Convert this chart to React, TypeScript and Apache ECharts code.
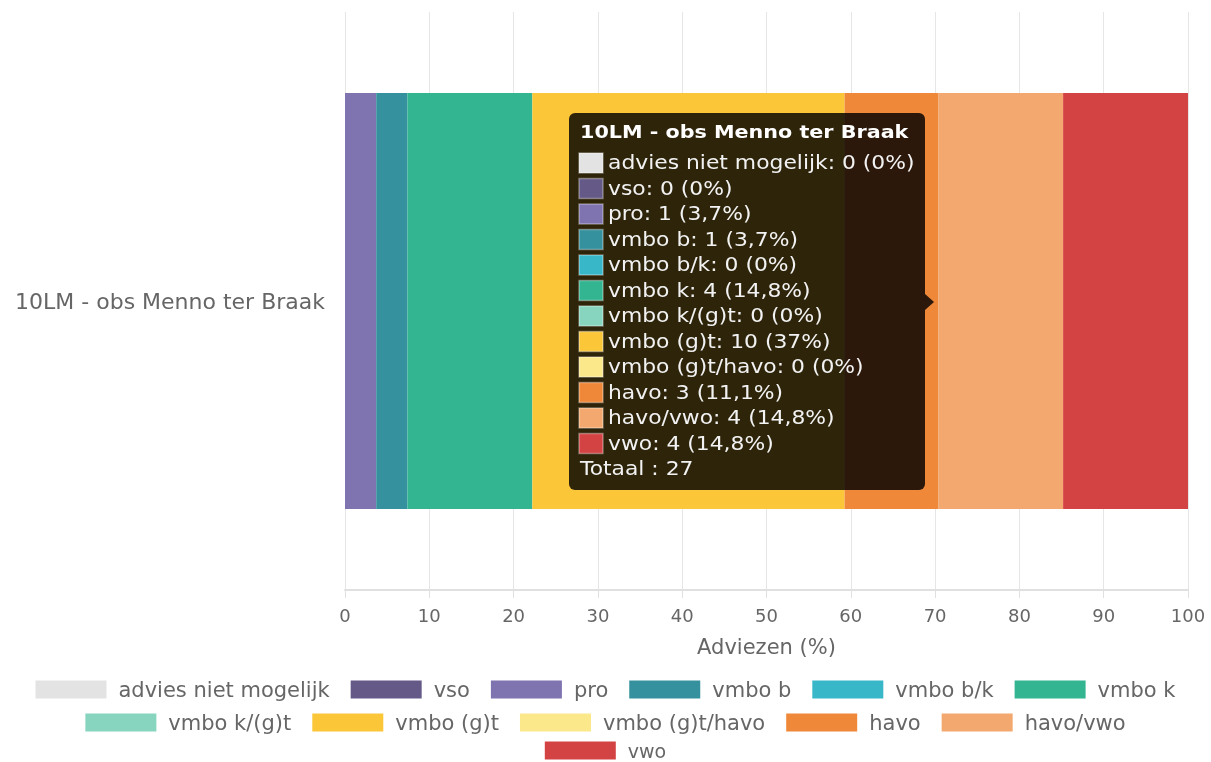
import React, { useEffect, useRef } from "react";
import * as echarts from "echarts";

const category = "10LM - obs Menno ter Braak";
const seriesNames = [
  "advies niet mogelijk",
  "vso",
  "pro",
  "vmbo b",
  "vmbo b/k",
  "vmbo k",
  "vmbo k/(g)t",
  "vmbo (g)t",
  "vmbo (g)t/havo",
  "havo",
  "havo/vwo",
  "vwo",
];
const counts = [0, 0, 1, 1, 0, 4, 0, 10, 0, 3, 4, 4];
const colors = [
  "#e3e3e3",
  "#655a87",
  "#7f73b0",
  "#35919e",
  "#38b7c9",
  "#33b592",
  "#87d5bf",
  "#fbc638",
  "#fbe88a",
  "#f0883a",
  "#f3a86f",
  "#d44343",
];
const legendRows = [
  ["advies niet mogelijk", "vso", "pro", "vmbo b", "vmbo b/k", "vmbo k"],
  ["vmbo k/(g)t", "vmbo (g)t", "vmbo (g)t/havo", "havo", "havo/vwo"],
  ["vwo"],
];
const xTicks = [0, 10, 20, 30, 40, 50, 60, 70, 80, 90, 100];
const axisTitle = "Adviezen (%)";
const totalLabel = "Totaal";

const FONT = "'DejaVu Sans', 'Open Sans', sans-serif";

function fmtPct(v: number): string {
  const r = Math.round(v * 10) / 10;
  return String(r).replace(".", ",");
}

export default function App() {
  const ref = useRef<HTMLDivElement>(null);
  useEffect(() => {
    if (!ref.current) return;
    const chart = echarts.init(ref.current, undefined, { renderer: "svg" });
    const total = counts.reduce((a, b) => a + b, 0);
    const pcts = counts.map((c) => (c / total) * 100);

    const series = seriesNames.map((name, i) => ({
      name,
      type: "bar",
      stack: "all",
      barCategoryGap: "28%",
      itemStyle: { color: colors[i] },
      data: [pcts[i]],
    }));

    const tipX = 569;
    const tipY = 113;
    const tipW = 356;
    const tipH = 377;
    const rowStart = 163;
    const rowStep = 25.5;
    const sx = 1.15;
    const children: any[] = [
      {
        type: "rect",
        z: 100,
        shape: { x: tipX, y: tipY, width: tipW, height: tipH, r: 6 },
        style: { fill: "rgba(0,0,0,0.82)" },
      },
      {
        type: "polygon",
        z: 100,
        shape: { points: [[tipX + tipW, 294], [tipX + tipW + 9, 302], [tipX + tipW, 310]] },
        style: { fill: "rgba(0,0,0,0.82)" },
      },
      {
        type: "text",
        z: 101,
        x: 580,
        y: 132,
        scaleX: sx,
        style: {
          text: category,
          fill: "#ffffff",
          font: `bold 18px ${FONT}`,
          verticalAlign: "middle",
        },
      },
    ];
    seriesNames.forEach((name, i) => {
      const cy = rowStart + i * rowStep;
      children.push({
        type: "rect",
        z: 101,
        shape: { x: 579, y: cy - 10, width: 24, height: 20 },
        style: { fill: colors[i], stroke: "rgba(255,255,255,0.35)", lineWidth: 1.5 },
      });
      children.push({
        type: "text",
        z: 101,
        x: 608,
        y: cy,
        scaleX: sx,
        style: {
          text: `${name}: ${counts[i]} (${fmtPct(pcts[i])}%)`,
          fill: "#f2f2f2",
          font: `19px ${FONT}`,
          verticalAlign: "middle",
        },
      });
    });
    children.push({
      type: "text",
      z: 101,
      x: 580,
      y: rowStart + seriesNames.length * rowStep,
      scaleX: sx,
      style: {
        text: `${totalLabel} : ${total}`,
        fill: "#f2f2f2",
        font: `19px ${FONT}`,
        verticalAlign: "middle",
      },
    });

    const legendCenters = [688, 721, 750];
    const legendFont = [21, 21, 19];
    const legends = legendRows.map((row, r) => ({
      data: row,
      left: "center",
      top: legendCenters[r] - 9,
      padding: 0,
      orient: "horizontal",
      itemWidth: 71,
      itemHeight: 18,
      itemGap: 21,
      icon: "rect",
      selectedMode: false,
      textStyle: {
        fontFamily: FONT,
        fontSize: legendFont[r],
        lineHeight: 18,
        color: "#666666",
        padding: [0, 0, 0, 7],
      },
    }));

    chart.setOption({
      animation: false,
      textStyle: { fontFamily: FONT },
      grid: { left: 345, right: 23, top: 12, bottom: 172, containLabel: false },
      xAxis: {
        type: "value",
        min: 0,
        max: 100,
        interval: 10,
        name: axisTitle,
        nameLocation: "middle",
        nameGap: 46,
        nameTextStyle: { color: "#666666", fontSize: 21, fontFamily: FONT },
        axisLine: { show: true, lineStyle: { color: "#e0e0e0", width: 2 } },
        axisTick: { show: true, length: 8, lineStyle: { color: "#e0e0e0" } },
        axisLabel: {
          color: "#666666",
          fontSize: 18,
          margin: 16,
          fontFamily: FONT,
          formatter: (v: number) => (xTicks.includes(v) ? String(v) : ""),
        },
        splitLine: { show: true, lineStyle: { color: "#e6e6e6", width: 1 } },
      },
      yAxis: {
        type: "category",
        data: [category],
        axisLine: { show: false },
        axisTick: { show: false },
        axisLabel: { color: "#666666", fontSize: 22, margin: 20, fontFamily: FONT },
      },
      legend: legends,
      series,
      graphic: [{ type: "group", children }],
    });
    return () => chart.dispose();
  }, []);
  return (
    <div
      ref={ref}
      style={{ position: "fixed", left: 0, top: 0, width: 1211, height: 762 }}
    />
  );
}
